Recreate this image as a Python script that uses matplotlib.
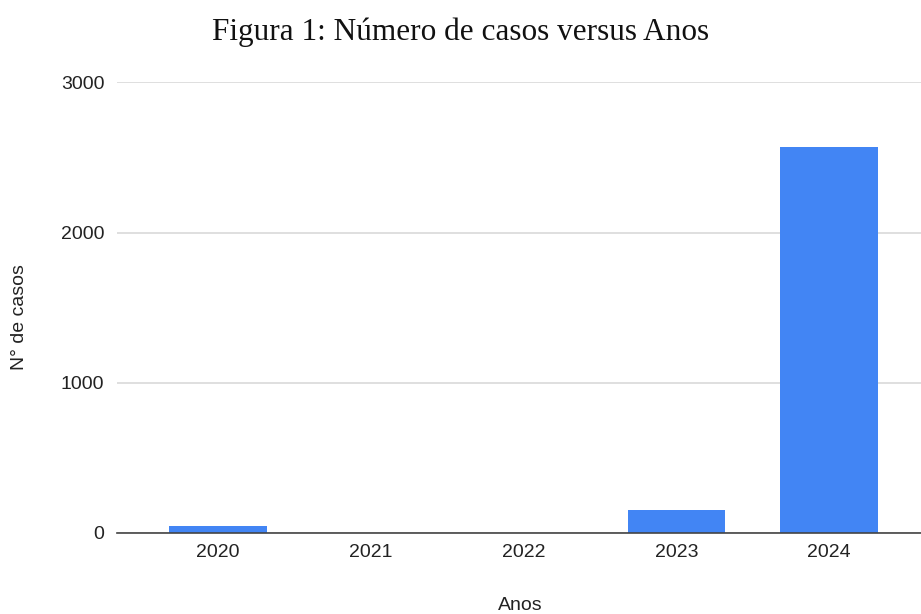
import numpy as np
import matplotlib.pyplot as plt

# casos por ano
anos = ['2020', '2021', '2022', '2023', '2024']
casos = [44, 0, 0, 155, 2570]
y_ticks = [0, 1000, 2000, 3000]

fig = plt.figure(figsize=(9.21, 6.14), dpi=100)
ax = fig.add_axes([0.127, 0.132, 0.873, 0.734])

x = np.arange(len(anos))
ax.bar(x, casos, width=0.64, color='#4285F4', zorder=3)

ax.set_xlim(-0.66, 4.6)
ax.set_ylim(0, 3000)
ax.set_yticks(y_ticks)
ax.set_xticks(x)
ax.set_xticklabels(anos)

ax.grid(axis='y', color='#d9d9d9', linewidth=1.2, zorder=0)
for s in ['top', 'right', 'left']:
    ax.spines[s].set_visible(False)
ax.spines['bottom'].set_color('#444444')
ax.spines['bottom'].set_linewidth(1.2)
ax.spines['bottom'].set_zorder(4)
ax.tick_params(axis='both', length=0, labelsize=14, colors='#222222',
               labelfontfamily='Liberation Sans')
ax.tick_params(axis='x', pad=8)
ax.tick_params(axis='y', pad=9)

ax.set_ylabel('N° de casos', fontsize=14, family='Liberation Sans', color='#222222',
              va='center')
ax.set_xlabel('Anos', fontsize=14, family='Liberation Sans', color='#222222',
              va='center')
ax.yaxis.set_label_coords(-0.121, 0.478)
ax.xaxis.set_label_coords(0.502, -0.162)

fig.text(0.5, 1 - 32 / 614, 'Figura 1: Número de casos versus Anos', ha='center', va='center',
         fontsize=22.5, family='Liberation Serif', color='#111111')

fig.savefig('out.png', dpi=100)
